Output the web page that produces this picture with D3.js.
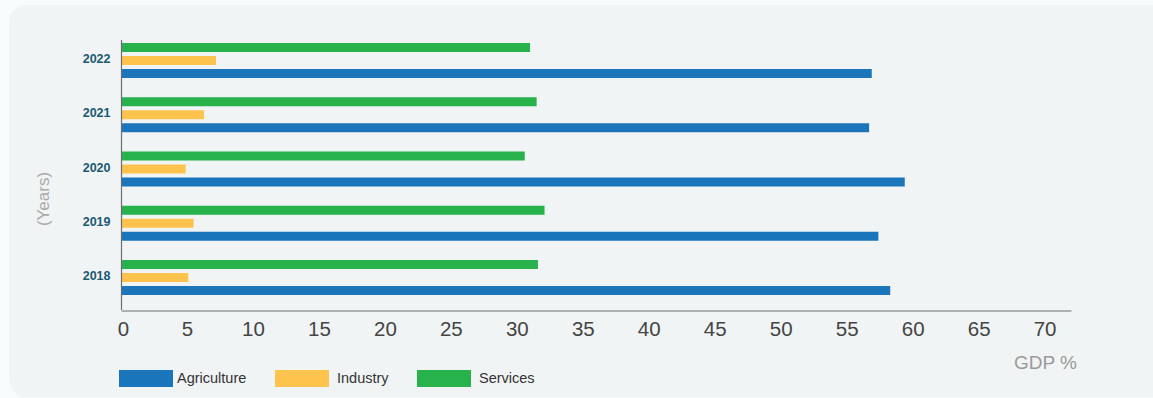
<!DOCTYPE html>
<html>
<head>
<meta charset="utf-8">
<script src="https://cdn.jsdelivr.net/npm/d3@7"></script>
<style>
  html, body { margin: 0; padding: 0; background: #f7fbfc; }
  svg { display: block; }
</style>
</head>
<body>
<svg id="chart" width="1153" height="398"></svg>
<script>
// GDP share by sector, per year
const years = ["2022", "2021", "2020", "2019", "2018"];
const sectors = ["Services", "Industry", "Agriculture"];
const agriculture = [56.9, 56.7, 59.4, 57.4, 58.3];
const industry = [7.2, 6.3, 4.9, 5.5, 5.1];
const services = [31.0, 31.5, 30.6, 32.1, 31.6];
const xTicks = [0, 5, 10, 15, 20, 25, 30, 35, 40, 45, 50, 55, 60, 65, 70];
const legendOrder = ["Agriculture", "Industry", "Services"];

const colors = { Agriculture: "#1b75bb", Industry: "#fec34d", Services: "#27b24b" };
const seriesValues = { Agriculture: agriculture, Industry: industry, Services: services };

const rows = years.map((y, i) => ({
  year: y,
  values: sectors.map(s => ({ sector: s, value: seriesValues[s][i] }))
}));

const svg = d3.select("#chart");
const font = "'Helvetica Neue', Helvetica, Arial, 'Liberation Sans', sans-serif";

// panel background
svg.append("rect")
  .attr("x", 9).attr("y", 5)
  .attr("width", 1160).attr("height", 392)
  .attr("rx", 18).attr("ry", 18)
  .attr("fill", "#f1f4f5");

const x = d3.scaleLinear().domain([0, 72]).range([121, 1071]);
const y = d3.scaleBand().domain(years).range([35, 303])
  .paddingInner(0.355).paddingOuter(0.1475);
const ySub = d3.scaleBand().domain(sectors).range([0, y.bandwidth()])
  .paddingInner(0.3077).paddingOuter(0);

// bars
const groups = svg.append("g").selectAll("g")
  .data(rows).join("g")
  .attr("transform", d => `translate(0,${y(d.year)})`);

groups.selectAll("rect")
  .data(d => d.values).join("rect")
  .attr("x", x(0))
  .attr("y", d => ySub(d.sector))
  .attr("width", d => x(d.value) - x(0))
  .attr("height", ySub.bandwidth())
  .attr("fill", d => colors[d.sector]);

// x axis
const xAxis = svg.append("g")
  .attr("transform", "translate(0,310.5)")
  .call(d3.axisBottom(x).tickValues(xTicks).tickSize(0).tickPadding(11));
xAxis.select(".domain").attr("stroke", "#6b6f72").attr("stroke-width", 1.2);
xAxis.selectAll("text")
  .attr("font-family", font).attr("font-size", 20.5).attr("font-weight", 300)
  .attr("fill", "#444");
xAxis.selectAll(".tick").filter(d => d === 0).select("text").attr("dx", 2);

// y axis
const yAxis = svg.append("g")
  .attr("transform", "translate(121.5,0)")
  .call(d3.axisLeft(y).tickSize(0).tickPadding(11));
yAxis.select(".domain").attr("d", "M0,40V310").attr("stroke", "#6b6f72").attr("stroke-width", 1.2);
yAxis.selectAll("text")
  .attr("font-family", font).attr("font-size", 12.5).attr("font-weight", 700)
  .attr("fill", "#1a5a70")
  .attr("dy", "0.2em");

// axis titles
svg.append("text")
  .attr("transform", "translate(49,199) rotate(-90)")
  .attr("text-anchor", "middle")
  .attr("font-family", font).attr("font-size", 17).attr("font-weight", 300)
  .attr("fill", "#aaaaaa")
  .text("(Years)");

svg.append("text")
  .attr("x", 1045.5).attr("y", 369)
  .attr("text-anchor", "middle")
  .attr("font-family", font).attr("font-size", 19).attr("font-weight", 300)
  .attr("fill", "#999999")
  .text("GDP %");

// legend
const legendX = [119, 275, 417];
const legend = svg.append("g").selectAll("g")
  .data(legendOrder).join("g")
  .attr("transform", (d, i) => `translate(${legendX[i]},370)`);
legend.append("rect")
  .attr("width", 54).attr("height", 17)
  .attr("fill", d => colors[d]);
legend.append("text")
  .attr("x", (d, i) => i === 0 ? 58 : 62).attr("y", 12.5)
  .attr("font-family", font).attr("font-size", 14.5)
  .attr("fill", "#333")
  .text(d => d);
</script>
</body>
</html>
